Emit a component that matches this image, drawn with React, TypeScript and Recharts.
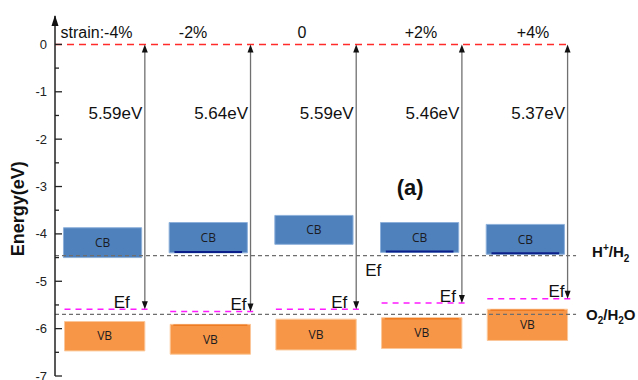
import React from 'react';
import {
  ComposedChart,
  XAxis,
  YAxis,
  ReferenceLine,
  ReferenceArea,
  ReferenceDot,
} from 'recharts';

// Strain groups (left to right)
const strains = ['strain:-4%', '-2%', '0', '+2%', '+4%'];
// Vacuum level (0 eV) to Fermi level distance, eV
const gaps = [5.59, 5.64, 5.59, 5.46, 5.37];
const gapLabels = ['5.59eV', '5.64eV', '5.59eV', '5.46eV', '5.37eV'];
// Conduction band block edges, eV
const cbTop = [-3.87, -3.76, -3.61, -3.76, -3.8];
const cbBottom = [-4.5, -4.4, -4.22, -4.39, -4.43];
// Valence band block edges, eV
const vbTop = [-5.85, -5.91, -5.8, -5.77, -5.59];
const vbBottom = [-6.47, -6.54, -6.45, -6.42, -6.25];
// Water redox potentials, eV
const hydrogenLevel = -4.46;
const oxygenLevel = -5.7;
// Energy axis ticks (labels on whole numbers, minor marks on halves)
const yTicks = [0, -0.5, -1, -1.5, -2, -2.5, -3, -3.5, -4, -4.5, -5, -5.5, -6, -6.5, -7];

// Groups whose band blocks carry a darker edge line
const cbEdgeGroups = [1, 3, 4];
const vbEdgeGroups = [1, 3, 4];

// Layout constants (group units along the hidden x axis)
const X_MIN = -0.45;
const X_MAX = 5;
const ARROW_DX = 0.4;
const CB_HALF = 0.37;
const VB_DX = 0.02;
const VB_HALF = 0.38;
const EF_LEFT = -0.36;
const EF_RIGHT = 0.43;
const LEVEL_END = 4.48;
const strainNudge = [-0.057, -0.144, -0.113, 0.013, 0.073];
const efLabelGap = [15, 4, 9, 6, 3];

const rows = strains.map((s, i) => ({ i, strain: s, ef: -gaps[i] }));

const SANS = '"Liberation Sans", Arial, sans-serif';
const BOX_FONT = '"Open Sans", "Noto Sans", sans-serif';

const DoubleArrow = (p: any) => {
  const { x1, y1, x2, y2 } = p;
  const h = 8;
  const w = 3;
  return (
    <g>
      <line x1={x1} y1={y1 + h - 1} x2={x2} y2={y2 - h + 1} stroke="#707070" strokeWidth={1.3} />
      <path d={`M${x1},${y1} L${x1 - w},${y1 + h} L${x1 + w},${y1 + h} Z`} fill="#111" />
      <path d={`M${x2},${y2} L${x2 - w},${y2 - h} L${x2 + w},${y2 - h} Z`} fill="#111" />
    </g>
  );
};

const EnergyTick = (p: any) => {
  const { x, y, payload } = p;
  const v = payload.value;
  const major = Number.isInteger(v);
  const axisX = x + 8;
  return (
    <g>
      <line x1={axisX} y1={y} x2={axisX + (major ? 7 : 4)} y2={y} stroke="#222" strokeWidth={1.3} />
      {major && (
        <text x={x} y={y} textAnchor="end" dominantBaseline="central" fontSize={13} fontFamily={SANS} fill="#222">
          {v === 0 ? '0' : String(v)}
        </text>
      )}
    </g>
  );
};

const textShape = (content: React.ReactNode, opts: any) => (p: any) => (
  <text
    x={p.cx + (opts.dx || 0)}
    y={p.cy + (opts.dy || 0)}
    textAnchor={opts.anchor || 'middle'}
    dominantBaseline={opts.baseline || 'central'}
    fontSize={opts.size}
    fontWeight={opts.weight || 'normal'}
    fontFamily={opts.family || SANS}
    fill={opts.fill || '#111'}
    transform={opts.rotate ? `rotate(${opts.rotate}, ${p.cx + (opts.dx || 0)}, ${p.cy + (opts.dy || 0)})` : undefined}
  >
    {content}
  </text>
);

export default function App() {
  return (
    <div style={{ position: 'absolute', left: 0, top: 0, background: '#fff' }}>
      <ComposedChart width={638} height={380} data={rows} margin={{ top: 16, right: 7, bottom: 4, left: 0 }}>
        <XAxis dataKey="i" type="number" domain={[X_MIN, X_MAX]} allowDataOverflow hide />
        <YAxis
          type="number"
          domain={[-7, 0.6]}
          allowDataOverflow
          ticks={yTicks}
          interval={0}
          width={55}
          tickLine={false}
          tickSize={0}
          tickMargin={8}
          tick={<EnergyTick />}
          axisLine={{ stroke: '#222', strokeWidth: 1.5 }}
        />

        {/* axis arrowhead */}
        <ReferenceDot
          x={X_MIN}
          y={0.6}
          ifOverflow="visible"
          shape={(p: any) => (
            <path d={`M${p.cx},${p.cy - 1} L${p.cx - 3.5},${p.cy + 10} L${p.cx + 3.5},${p.cy + 10} Z`} fill="#111" />
          )}
        />
        <ReferenceDot
          x={X_MIN}
          y={-3.47}
          ifOverflow="visible"
          shape={textShape('Energy(eV)', { dx: -36.5, size: 18, weight: 'bold', rotate: -90 })}
        />

        {/* band blocks */}
        {strains.map((_, i) => (
          <ReferenceArea
            key={`cb${i}`}
            x1={i - CB_HALF}
            x2={i + CB_HALF}
            y1={cbBottom[i]}
            y2={cbTop[i]}
            fill="#4F81BD"
            fillOpacity={1}
            stroke="#8DB0DA"
            strokeWidth={1}
            ifOverflow="visible"
            label={{ value: 'CB', position: 'center', fontSize: 12, fill: '#1b1b22', fontFamily: BOX_FONT }}
          />
        ))}
        {cbEdgeGroups.map((i) => (
          <ReferenceLine
            key={`cbe${i}`}
            segment={[
              { x: i - CB_HALF + 0.05, y: cbBottom[i] + 0.02 },
              { x: i + CB_HALF - 0.05, y: cbBottom[i] + 0.02 },
            ]}
            stroke="#0B1F8A"
            strokeWidth={2}
            ifOverflow="visible"
          />
        ))}
        {strains.map((_, i) => (
          <ReferenceArea
            key={`vb${i}`}
            x1={i + VB_DX - VB_HALF}
            x2={i + VB_DX + VB_HALF}
            y1={vbBottom[i]}
            y2={vbTop[i]}
            fill="#F79646"
            fillOpacity={1}
            stroke="#FBC79A"
            strokeWidth={1}
            ifOverflow="visible"
            label={{ value: 'VB', position: 'center', fontSize: 12, fill: '#1b1b22', fontFamily: BOX_FONT }}
          />
        ))}
        {vbEdgeGroups.map((i) => (
          <ReferenceLine
            key={`vbe${i}`}
            segment={[
              { x: i + VB_DX - VB_HALF + 0.03, y: vbTop[i] - 0.02 },
              { x: i + VB_DX + VB_HALF - 0.03, y: vbTop[i] - 0.02 },
            ]}
            stroke="#EE7A22"
            strokeWidth={1.5}
            ifOverflow="visible"
          />
        ))}

        {/* water redox levels */}
        <ReferenceLine
          segment={[{ x: X_MIN, y: hydrogenLevel }, { x: LEVEL_END, y: hydrogenLevel }]}
          stroke="#6e6e6e"
          strokeWidth={1.2}
          strokeDasharray="4 3"
          ifOverflow="visible"
        />
        <ReferenceLine
          segment={[{ x: X_MIN, y: oxygenLevel }, { x: LEVEL_END, y: oxygenLevel }]}
          stroke="#6e6e6e"
          strokeWidth={1.2}
          strokeDasharray="4 3"
          ifOverflow="visible"
        />

        {/* vacuum level */}
        <ReferenceLine
          segment={[{ x: X_MIN, y: 0 }, { x: 4 + ARROW_DX, y: 0 }]}
          stroke="#FF2B2B"
          strokeWidth={1.5}
          strokeDasharray="7 5"
          ifOverflow="visible"
        />

        {/* Fermi levels */}
        {gaps.map((g, i) => (
          <ReferenceLine
            key={`ef${i}`}
            segment={[{ x: i + EF_LEFT, y: -g }, { x: i + EF_RIGHT, y: -g }]}
            stroke="#FF1AFF"
            strokeWidth={1.5}
            strokeDasharray="6 5"
            ifOverflow="visible"
          />
        ))}

        {/* vacuum-to-Fermi arrows */}
        {gaps.map((g, i) => (
          <ReferenceLine
            key={`ar${i}`}
            segment={[{ x: i + ARROW_DX, y: 0 }, { x: i + ARROW_DX, y: -g }]}
            ifOverflow="visible"
            shape={DoubleArrow}
          />
        ))}

        {/* gap values */}
        {gaps.map((g, i) => (
          <ReferenceDot
            key={`gl${i}`}
            x={i + ARROW_DX}
            y={-1.46}
            ifOverflow="visible"
            shape={textShape(gapLabels[i], { dx: -2.5, anchor: 'end', size: 17 })}
          />
        ))}

        {/* Ef labels */}
        {gaps.map((g, i) => (
          <ReferenceDot
            key={`efl${i}`}
            x={i + ARROW_DX}
            y={-g}
            ifOverflow="visible"
            shape={textShape('Ef', { dx: -efLabelGap[i], dy: -1.5, anchor: 'end', baseline: 'alphabetic', size: 17 })}
          />
        ))}
        <ReferenceDot
          x={2 + ARROW_DX}
          y={-4.89}
          ifOverflow="visible"
          shape={textShape('Ef', { dx: 9, anchor: 'start', baseline: 'alphabetic', size: 17 })}
        />

        {/* strain labels */}
        {strains.map((s, i) => (
          <ReferenceDot
            key={`st${i}`}
            x={i + strainNudge[i]}
            y={0.26}
            ifOverflow="visible"
            shape={textShape(s, { size: 16 })}
          />
        ))}

        {/* panel tag */}
        <ReferenceDot x={2.91} y={-3.03} ifOverflow="visible" shape={textShape('(a)', { size: 22, weight: 'bold' })} />

        {/* redox level labels */}
        <ReferenceDot
          x={LEVEL_END}
          y={hydrogenLevel}
          ifOverflow="visible"
          shape={(p: any) => (
            <text x={p.cx + 16} y={p.cy + 1.5} fontSize={15} fontWeight="bold" fontFamily={SANS} fill="#111">
              H
              <tspan dy={-6} fontSize={10}>+</tspan>
              <tspan dy={6}>/H</tspan>
              <tspan dy={5} fontSize={10}>2</tspan>
            </text>
          )}
        />
        <ReferenceDot
          x={LEVEL_END}
          y={oxygenLevel}
          ifOverflow="visible"
          shape={(p: any) => (
            <text x={p.cx + 10} y={p.cy + 6} fontSize={15} fontWeight="bold" fontFamily={SANS} fill="#111">
              O
              <tspan dy={4} fontSize={10}>2</tspan>
              <tspan dy={-4}>/H</tspan>
              <tspan dy={4} fontSize={10}>2</tspan>
              <tspan dy={-4}>O</tspan>
            </text>
          )}
        />
      </ComposedChart>
    </div>
  );
}
